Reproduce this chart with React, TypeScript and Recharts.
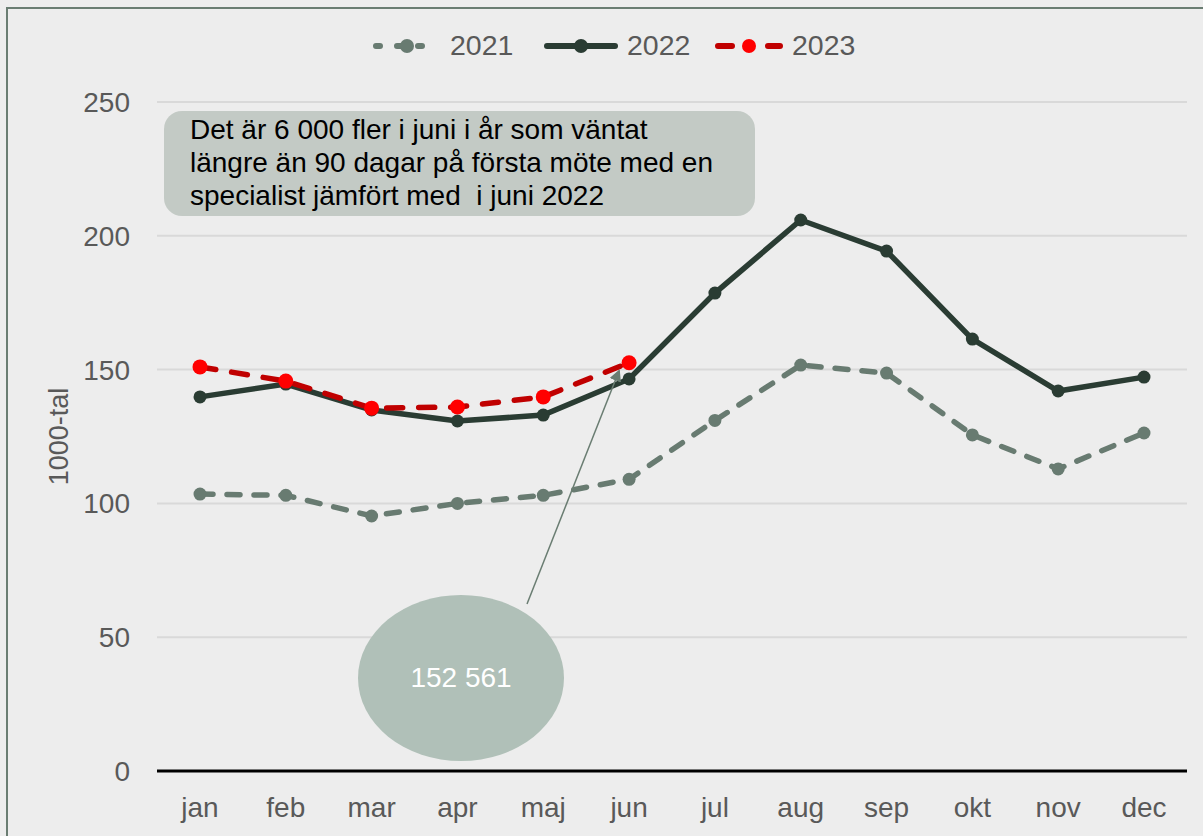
import React from "react";
import {LineChart, Line, XAxis, YAxis, CartesianGrid} from "recharts";

const months = ["jan", "feb", "mar", "apr", "maj", "jun", "jul", "aug", "sep", "okt", "nov", "dec"];
const y2021 = [103.5, 103, 95.3, 100, 103, 109, 131, 151.7, 148.7, 125.6, 112.9, 126.3];
const y2022 = [139.8, 144.6, 134.9, 130.8, 133, 146.5, 178.6, 205.9, 194.3, 161.4, 142, 147.2];
const y2023 = [151, 145.7, 135.6, 136, 139.8, 152.561];
const yTicks = [0, 50, 100, 150, 200, 250];

const data = months.map((m, i) => ({
    month: m,
    y2021: y2021[i],
    y2022: y2022[i],
    y2023: i < y2023.length ? y2023[i] : null,
}));

const FONT = "'Liberation Sans', Arial, sans-serif";
const C2021 = "#687b71";
const C2022 = "#2a3c33";
const C2023 = "#c00000";
const C2023DOT = "#ff0000";

const LegendIcon = ({color, dot, dash, w}: { color: string, dot: string, dash?: string, w: number }) => (
    <svg width={w} height={20} style={{display: "block"}}>
        <line x1={4} y1={10} x2={w - 4} y2={10} stroke={color} strokeWidth={6}
              strokeDasharray={dash} strokeLinecap="round"/>
        <circle cx={w / 2} cy={10} r={7} fill={dot}/>
    </svg>
);

// legend layout
const legendItems = [
    {name: "2021", color: C2021, dot: C2021, dash: "4 17", left: 372, w: 70},
    {name: "2022", color: C2022, dot: C2022, left: 543, w: 76},
    {name: "2023", color: C2023, dot: C2023DOT, dash: "14 36", left: 714, w: 70},
];

export default function App() {
    return (
        <div style={{
            position: "fixed", left: 0, top: 0, width: 1203, height: 836,
            background: "#ededed", overflow: "hidden", fontFamily: FONT
        }}>
            <LineChart width={1203} height={836} data={data}
                       margin={{top: 102, right: 16, bottom: 15, left: 0}}>
                <CartesianGrid vertical={false} stroke="#d9d9d9" strokeWidth={2}/>
                <XAxis dataKey="month" height={50} tickLine={false} tickSize={0} tickMargin={26}
                       padding={{left: 43, right: 43}}
                       axisLine={{stroke: "#000", strokeWidth: 3}}
                       tick={{fill: "#595959", fontSize: 28, fontFamily: FONT}}/>
                <YAxis width={157} domain={[0, 250]} ticks={yTicks} axisLine={false} tickLine={false}
                       tickSize={0} tickMargin={27}
                       tick={{fill: "#595959", fontSize: 28, fontFamily: FONT}}
                       label={{value: "1000-tal", angle: -90, position: "center", dx: -20,
                           style: {fill: "#595959", fontSize: 27, fontFamily: FONT}}}/>
                <Line dataKey="y2021" stroke={C2021} strokeWidth={5.5} strokeDasharray="13 14"
                      strokeLinecap="round" dot={{r: 6.5, fill: C2021, stroke: C2021, strokeWidth: 0, strokeDasharray: ""}}
                      isAnimationActive={false}/>
                <Line dataKey="y2022" stroke={C2022} strokeWidth={5.5}
                      dot={{r: 6.5, fill: C2022, stroke: C2022, strokeWidth: 0}}
                      isAnimationActive={false}/>
                <Line dataKey="y2023" stroke={C2023} strokeWidth={5.5} strokeDasharray="16 16"
                      strokeLinecap="round" connectNulls={false}
                      dot={{r: 7.5, fill: C2023DOT, stroke: C2023DOT, strokeWidth: 0, strokeDasharray: ""}}
                      isAnimationActive={false}/>
            </LineChart>

            {/* legend */}
            {legendItems.map((it) => (
                <div key={it.name} style={{
                    position: "absolute", left: it.left, top: 29, display: "flex", alignItems: "center"
                }}>
                    <LegendIcon color={it.color} dot={it.dot} dash={it.dash} w={it.w}/>
                    <span style={{fontSize: 28.5, color: "#595959", marginLeft: 8}}>{it.name}</span>
                </div>
            ))}

            {/* frame */}
            <div style={{
                position: "absolute", left: 6, top: 7, width: 1300, height: 900,
                borderTop: "2px solid #6a7d72", borderLeft: "2px solid #6a7d72"
            }}/>

            {/* annotation box */}
            <div style={{
                position: "absolute", left: 164, top: 111, width: 591, height: 105,
                background: "#c3cac5", borderRadius: 18, boxSizing: "border-box",
                padding: "2px 0 0 26px", fontSize: 28, lineHeight: "33px", color: "#000",
                whiteSpace: "nowrap"
            }}>
                Det är 6 000 fler i juni i år som väntat<br/>
                längre än 90 dagar på första möte med en<br/>
                specialist jämfört med&nbsp; i juni 2022
            </div>

            {/* arrow */}
            <svg width={1203} height={836} style={{position: "absolute", left: 0, top: 0, pointerEvents: "none"}}>
                <defs>
                    <marker id="ah" markerWidth="12" markerHeight="12" refX="10" refY="6" orient="auto"
                            markerUnits="userSpaceOnUse">
                        <path d="M0,0 L12,6 L0,12 z" fill="#6a7d72"/>
                    </marker>
                </defs>
                <line x1={527} y1={604} x2={619} y2={371} stroke="#6a7d72" strokeWidth={1.5}
                      markerEnd="url(#ah)"/>
            </svg>

            {/* ellipse */}
            <div style={{
                position: "absolute", left: 358, top: 595, width: 206, height: 166,
                borderRadius: "50%", background: "#b0c0b8", display: "flex",
                alignItems: "center", justifyContent: "center", color: "#fff", fontSize: 28
            }}>
                152 561
            </div>
        </div>
    );
}
